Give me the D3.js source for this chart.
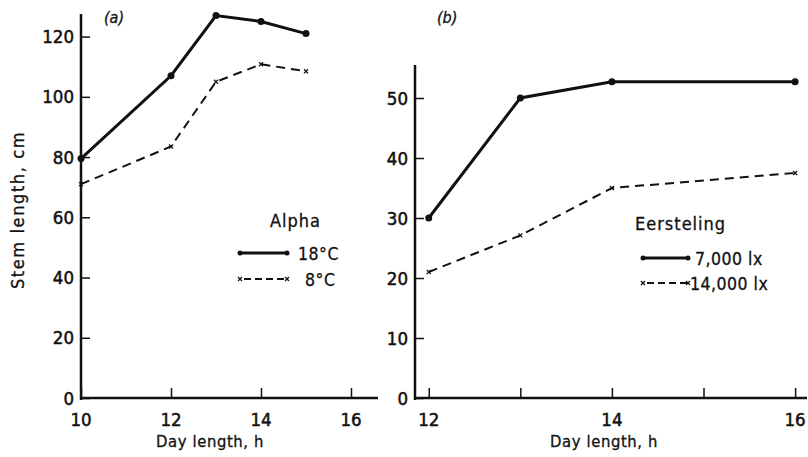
<!DOCTYPE html>
<html>
<head>
<meta charset="utf-8">
<script src="https://cdn.jsdelivr.net/npm/d3@7"></script>
<style>
body { margin: 0; background: #fff; }
svg { display: block; }
text { font-family: "DejaVu Sans Condensed", "DejaVu Sans", sans-serif; fill: #111; stroke: #111; stroke-width: 0.3; }
text.tick { font-family: "Liberation Sans Narrow", "DejaVu Sans Condensed", sans-serif; stroke-width: 0.5; }
</style>
</head>
<body>
<svg width="808" height="457"></svg>
<script>
// panel (a): Alpha
var dayA = [10, 12, 13, 14, 15];
var alpha18 = [79.5, 107, 127, 125, 121];
var alpha8 = [71, 83.5, 105, 110.8, 108.5];
var yTicksA = [0, 20, 40, 60, 80, 100, 120];
var xTicksA = [10, 12, 14, 16];

// panel (b): Eersteling
var dayB = [12, 13, 14, 16];
var eers7000 = [30, 50, 52.7, 52.7];
var eers14000 = [21, 27.1, 35, 37.5];
var yTicksB = [0, 10, 20, 30, 40, 50];
var xTicksB = [12, 13, 14, 15, 16];
var xLabelsB = [12, 14, 16];

var svg = d3.select("svg");

function tr(x, y) {
	return "translate(" + x + "," + y + ")";
}

function cross(sel) {
	sel.attr("d", "M-2,-2L2,2M-2,2L2,-2").attr("stroke", "#111").attr("stroke-width", 1.2).attr("fill", "none");
}

function panel(opt) {
	var x = d3.scaleLinear().domain(opt.xd).range(opt.xr);
	var y = d3.scaleLinear().domain(opt.yd).range(opt.yr);
	var g = svg.append("g");

	// axis lines
	g.append("line").attr("x1", x(opt.xd[0])).attr("x2", x(opt.xd[0]))
		.attr("y1", y(opt.yd[0]) + 2).attr("y2", y(opt.yd[1]))
		.attr("stroke", "#111").attr("stroke-width", 2.5);
	g.append("line").attr("x1", x(opt.xd[0]) - 1).attr("x2", x(opt.xd[1]))
		.attr("y1", y(opt.yd[0])).attr("y2", y(opt.yd[0]))
		.attr("stroke", "#111").attr("stroke-width", 2.5);

	var yAxis = d3.axisRight(y).tickValues(opt.yt).tickSize(9).tickFormat("");
	g.append("g").attr("transform", tr(x(opt.xd[0]), 0)).call(yAxis)
		.call(function (s) { s.select(".domain").remove(); s.selectAll("line").attr("stroke", "#111").attr("stroke-width", 1.5); });
	g.selectAll(".ylab").data(opt.yt).enter().append("text").attr("class", "tick")
		.attr("x", x(opt.xd[0]) - 7).attr("y", function (d) { return y(d) + 6.5; })
		.attr("text-anchor", "end").attr("font-size", 18.5).text(function (d) { return d; });

	var xAxis = d3.axisTop(x).tickValues(opt.xt).tickSize(10).tickFormat("");
	g.append("g").attr("transform", tr(0, y(opt.yd[0]))).call(xAxis)
		.call(function (s) { s.select(".domain").remove(); s.selectAll("line").attr("stroke", "#111").attr("stroke-width", 1.5); });
	g.selectAll(".xlab").data(opt.xl).enter().append("text").attr("class", "tick")
		.attr("x", function (d) { return x(d); }).attr("y", y(opt.yd[0]) + 28)
		.attr("text-anchor", "middle").attr("font-size", 18.5).text(function (d) { return d; });

	g.append("text").attr("x", opt.xlabX).attr("y", 447).attr("text-anchor", "middle")
		.attr("font-size", 16.5).attr("letter-spacing", 0.6).text("Day length, h");
	g.append("text").attr("x", opt.tagX).attr("y", 23).attr("font-size", 16)
		.attr("font-style", "italic").text(opt.tag);

	var line = d3.line().x(function (d) { return x(d[0]); }).y(function (d) { return y(d[1]); });
	var solid = d3.zip(opt.days, opt.s1);
	var dashed = d3.zip(opt.days, opt.s2);
	g.append("path").datum(solid).attr("d", line).attr("fill", "none")
		.attr("stroke", "#111").attr("stroke-width", 3);
	g.append("path").datum(dashed).attr("d", line).attr("fill", "none")
		.attr("stroke", "#111").attr("stroke-width", 2).attr("stroke-dasharray", "9,6");
	g.selectAll(".dot").data(solid).enter().append("circle")
		.attr("cx", function (d) { return x(d[0]); }).attr("cy", function (d) { return y(d[1]); })
		.attr("r", 3.5).attr("fill", "#111");
	g.selectAll(".cross").data(dashed).enter().append("path")
		.attr("transform", function (d) { return tr(x(d[0]), y(d[1])); })
		.call(cross);

	// legend
	var L = opt.legend;
	g.append("text").attr("x", L.titleX).attr("y", L.titleY).attr("font-size", 18)
		.attr("letter-spacing", L.ls).text(L.title);
	g.append("line").attr("x1", L.x0).attr("x2", L.x1).attr("y1", L.r1).attr("y2", L.r1)
		.attr("stroke", "#111").attr("stroke-width", 3);
	g.selectAll(".ld").data([L.x0, L.x1]).enter().append("circle")
		.attr("cx", function (d) { return d; }).attr("cy", L.r1).attr("r", 2.5).attr("fill", "#111");
	g.append("line").attr("x1", L.x0 + 4).attr("x2", L.x1).attr("y1", L.r2).attr("y2", L.r2)
		.attr("stroke", "#111").attr("stroke-width", 2).attr("stroke-dasharray", "7,4");
	g.selectAll(".lc").data([L.x0, L.x1]).enter().append("path")
		.attr("transform", function (d) { return tr(d, L.r2); }).call(cross);
	g.append("text").attr("x", L.t1x).attr("y", L.r1 + 7).attr("font-size", 17.5)
		.attr("letter-spacing", 0.5).text(L.n1);
	g.append("text").attr("x", L.t2x).attr("y", L.r2 + 7).attr("font-size", 17.5)
		.attr("letter-spacing", 0.5).text(L.n2);
}

panel({
	xd: [10, 16.6], xr: [81, 378], yd: [0, 127.5], yr: [398, 14],
	yt: yTicksA, xt: xTicksA, xl: xTicksA, days: dayA, s1: alpha18, s2: alpha8,
	xlabX: 210, tagX: 104, tag: "(a)",
	legend: { titleX: 270, titleY: 227, ls: 1, title: "Alpha", x0: 240, x1: 287, r1: 253, r2: 279,
		n1: "18°C", n2: "8°C", t1x: 298, t2x: 305 }
});

panel({
	xd: [11.85, 16.13], xr: [415, 807], yd: [0, 55.5], yr: [398, 65],
	yt: yTicksB, xt: xTicksB, xl: xLabelsB, days: dayB, s1: eers7000, s2: eers14000,
	xlabX: 604, tagX: 437, tag: "(b)",
	legend: { titleX: 635, titleY: 230, ls: 1, title: "Eersteling", x0: 643, x1: 688, r1: 258, r2: 283,
		n1: "7,000 lx", n2: "14,000 lx", t1x: 695, t2x: 690 }
});

svg.append("text").attr("transform", "translate(24,210) rotate(-90)")
	.attr("text-anchor", "middle").attr("font-size", 18).attr("letter-spacing", 1.6)
	.text("Stem length, cm");
</script>
</body>
</html>
